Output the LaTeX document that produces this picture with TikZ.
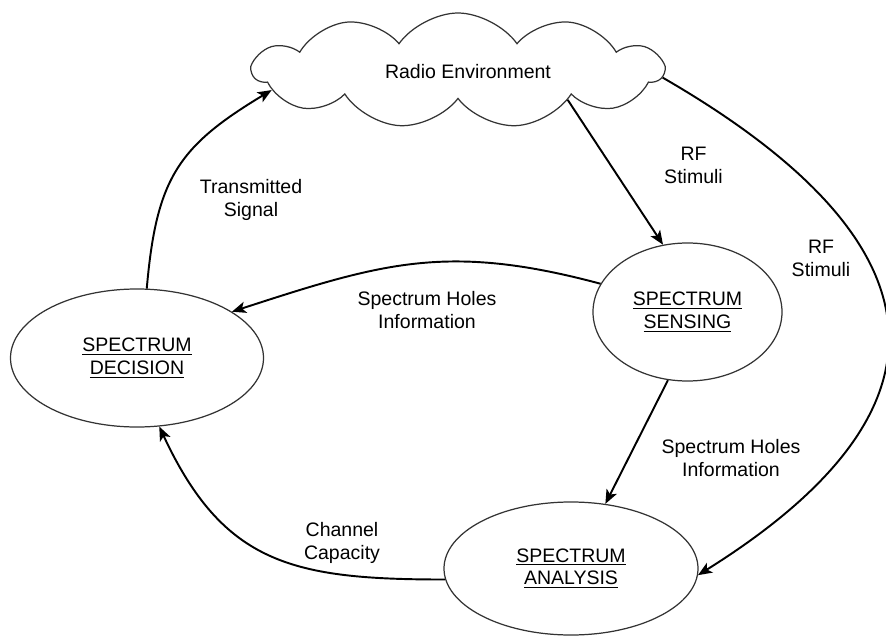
\documentclass[tikz,border=0pt]{standalone}
\usepackage{fontspec}
\setmainfont{Liberation Sans}
\usetikzlibrary{shapes.geometric,shapes.symbols,arrows.meta}

\begin{document}
\begin{tikzpicture}[
    font=\fontsize{11.1}{13}\selectfont,
    state/.style={draw=black!80, line width=0.7pt, ellipse, align=center, inner sep=0pt},
    lbl/.style={align=center, inner sep=0pt},
    arr/.style={line width=1.1pt, -{Stealth[length=8pt, width=6.5pt, inset=2pt]}}]
    \useasboundingbox (0,0) rectangle (17.72,12.72);

    % environment and the three functions
    \node[draw=black!80, line width=0.7pt, cloud, cloud puffs=11, cloud puff arc=110, aspect=3.5,
          minimum width=8.2cm, minimum height=2.3cm] (env) at (9.16,11.31) {};
    \node[lbl] (envtxt) at (9.36,11.28) {Radio Environment};
    \node[state, minimum width=5.06cm, minimum height=2.76cm] (dec) at (2.74,5.56) {\underline{SPECTRUM}\\\underline{DECISION}};
    \node[state, minimum width=3.78cm, minimum height=2.76cm] (sens) at (13.75,6.48) {\underline{SPECTRUM}\\\underline{SENSING}};
    \node[state, minimum width=5.08cm, minimum height=2.66cm] (ana) at (11.42,1.35) {\underline{SPECTRUM}\\\underline{ANALYSIS}};

    % edge labels
    \node[lbl] (tx) at (5.02,8.72) {Transmitted\\Signal};
    \node[lbl] (rf1) at (13.87,9.41) {RF\\Stimuli};
    \node[lbl] (rf2) at (16.42,7.56) {RF\\Stimuli};
    \node[lbl] (holes1) at (8.54,6.52) {Spectrum Holes\\Information};
    \node[lbl] (holes2) at (14.62,3.56) {Spectrum Holes\\Information};
    \node[lbl] (cap) at (6.84,1.86) {Channel\\Capacity};

    % straight arrows
    \foreach \i/\j in {env.-15/sens.110, sens.254/ana.62}
        \draw[arr] (\i) -- (\j);

    % curved arrows
    \draw[arr] (sens.162) to[out=165, in=18, looseness=1.1] (dec.26);
    \draw[arr] (dec.82) to[out=85, in=211, looseness=1.2] (env.186);
    \draw[arr] (env.-2) to[out=-30, in=32, looseness=1.65] (ana.-3);
    \draw[arr] (ana.185) to[out=180, in=295, looseness=1.2] (dec.288);
\end{tikzpicture}
\end{document}
